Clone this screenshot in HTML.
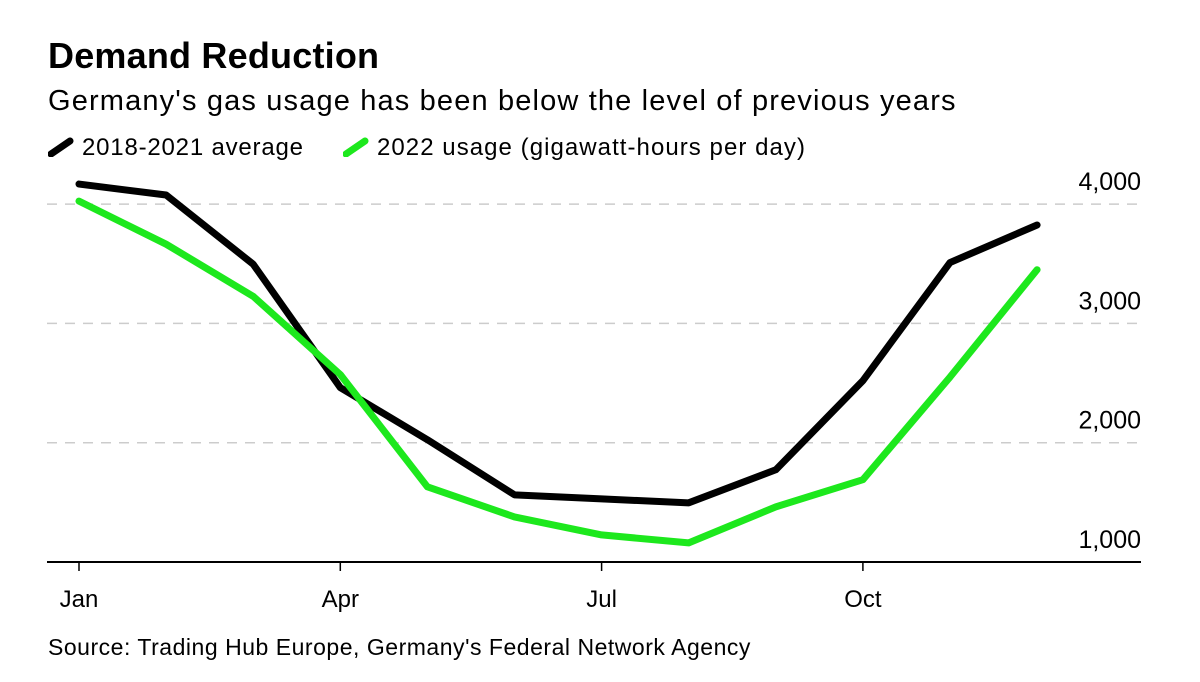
<!DOCTYPE html>
<html><head><meta charset="utf-8"><style>
body{margin:0;background:#fff;font-family:"Liberation Sans",Arial,sans-serif;}
#wrap{position:relative;width:1200px;height:682px;overflow:hidden;}
.t{position:absolute;white-space:nowrap;color:#000;}
</style></head><body>
<div id="wrap">
<div class="t" style="left:48px;top:35px;font-size:36px;font-weight:bold;letter-spacing:0.2px">Demand Reduction</div>
<div class="t" style="left:48px;top:85px;font-size:29px;letter-spacing:1.15px">Germany's gas usage has been below the level of previous years</div>
<div class="t" style="left:48px;top:134px;font-size:24px;letter-spacing:0.8px"><svg width="26" height="20" style="vertical-align:-2px;margin-right:8px"><line x1="3" y1="17" x2="22" y2="4" stroke="#000" stroke-width="7" stroke-linecap="round"/></svg>2018-2021 average</div>
<div class="t" style="left:343px;top:134px;font-size:24px;letter-spacing:1.05px"><svg width="26" height="20" style="vertical-align:-2px;margin-right:8px"><line x1="3" y1="17" x2="22" y2="4" stroke="#1de81d" stroke-width="7" stroke-linecap="round"/></svg>2022 usage (gigawatt-hours per day)</div>
<div class="t" style="left:48px;top:634px;font-size:23px;letter-spacing:0.52px">Source: Trading Hub Europe, Germany's Federal Network Agency</div>
<svg id="plot" width="1200" height="682" style="position:absolute;left:0;top:0"></svg>
</div>
<script>
const months=["Jan","Feb","Mar","Apr","May","Jun","Jul","Aug","Sep","Oct","Nov","Dec"];
const avgValues=[4168,4076,3496,2462,2025,1563,1529,1496,1773,2520,3510,3825];
const usage2022=[4025,3664,3227,2571,1630,1378,1227,1160,1462,1690,2550,3450];
const yTicks=[1000,2000,3000,4000];
const yTickLabels=["1,000","2,000","3,000","4,000"];
const xTickMonths=["Jan","Apr","Jul","Oct"];
const svg=document.getElementById('plot');
const NS='http://www.w3.org/2000/svg';
function x(i){return 79+i*87.1;}
function y(v){return 562-(v-1000)*0.1193;}
function mk(tag,attrs){const e=document.createElementNS(NS,tag);for(const k in attrs)e.setAttribute(k,attrs[k]);svg.appendChild(e);return e;}
yTicks.forEach((v,i)=>{
  if(v>1000){const g=mk('line',{x1:47,x2:1141,y1:y(v),y2:y(v),stroke:'#ccc','stroke-width':1.5,'stroke-dasharray':'10 8'});
  
  }
  const t=mk('text',{x:1141,y:y(v)-14,'text-anchor':'end','font-size':25,fill:'#000','font-family':'Liberation Sans, Arial, sans-serif'});
  t.textContent=yTickLabels[i];
  
  
});
const ax=mk('line',{x1:47,x2:1141,y1:562,y2:562,stroke:'#000','stroke-width':2});


xTickMonths.forEach(m=>{
  const i=months.indexOf(m);
  const tk=mk('line',{x1:x(i),x2:x(i),y1:562,y2:571,stroke:'#000','stroke-width':1.5});
  
  
  const t=mk('text',{x:x(i),y:607,'text-anchor':'middle','font-size':24,fill:'#000','font-family':'Liberation Sans, Arial, sans-serif'});
  t.textContent=m;
  
  
});
function line(vals,color,name){
  const p=mk('polyline',{points:vals.map((v,i)=>x(i)+','+y(v)).join(' '),fill:'none',stroke:color,'stroke-width':7,'stroke-linejoin':'round','stroke-linecap':'round'});
  
  
}
line(avgValues,'#000','line-2018-2021-average');
line(usage2022,'#1de81d','line-2022-usage');
</script>
</body></html>
